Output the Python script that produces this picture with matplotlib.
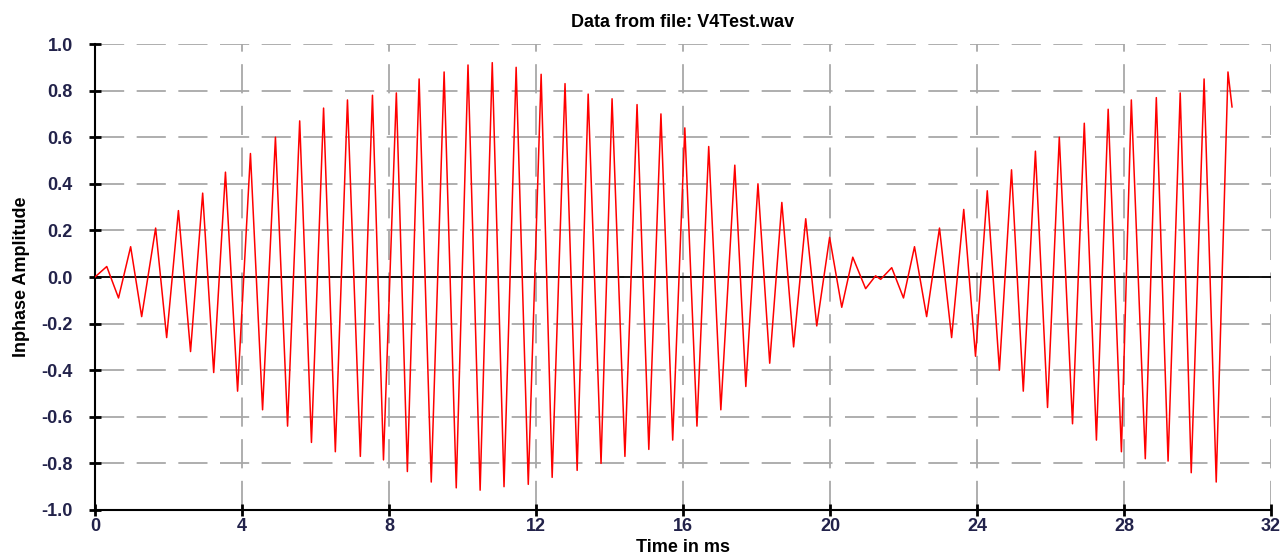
import matplotlib
matplotlib.use("Agg")
import matplotlib.pyplot as plt
import numpy as np

# extrema of the inphase signal (time in ms, amplitude)
t_ms = [0.00, 0.32, 0.64, 0.97, 1.27, 1.65, 1.95, 2.27, 2.60, 2.93,
        3.23, 3.55, 3.88, 4.23, 4.56, 4.91, 5.24, 5.57, 5.89, 6.22,
        6.54, 6.87, 7.22, 7.55, 7.85, 8.20, 8.50, 8.82, 9.15, 9.50,
        9.83, 10.15, 10.48, 10.81, 11.13, 11.46, 11.79, 12.14, 12.44, 12.79,
        13.12, 13.42, 13.77, 14.07, 14.42, 14.75, 15.07, 15.40, 15.72, 16.05,
        16.38, 16.70, 17.03, 17.41, 17.71, 18.04, 18.36, 18.69, 19.01, 19.34,
        19.64, 19.99, 20.32, 20.62, 20.97, 21.24, 21.38, 21.68, 22.00, 22.30,
        22.63, 22.98, 23.31, 23.64, 23.96, 24.28, 24.61, 24.94, 25.26, 25.59,
        25.92, 26.24, 26.60, 26.92, 27.25, 27.57, 27.93, 28.20, 28.58, 28.88,
        29.20, 29.53, 29.83, 30.18, 30.51, 30.83, 30.94]
amp = [0.00, 0.045, -0.09, 0.13, -0.17, 0.21, -0.26, 0.285, -0.32, 0.36,
       -0.41, 0.45, -0.49, 0.53, -0.57, 0.60, -0.64, 0.67, -0.71, 0.725,
       -0.75, 0.76, -0.77, 0.78, -0.785, 0.79, -0.835, 0.85, -0.88, 0.88,
       -0.905, 0.91, -0.915, 0.92, -0.90, 0.90, -0.89, 0.87, -0.86, 0.83,
       -0.83, 0.785, -0.80, 0.765, -0.77, 0.74, -0.74, 0.70, -0.70, 0.64,
       -0.64, 0.56, -0.57, 0.48, -0.47, 0.40, -0.37, 0.32, -0.30, 0.25,
       -0.21, 0.17, -0.13, 0.085, -0.05, 0.005, -0.01, 0.04, -0.09, 0.13,
       -0.17, 0.21, -0.26, 0.29, -0.34, 0.37, -0.40, 0.46, -0.49, 0.54,
       -0.56, 0.60, -0.63, 0.66, -0.70, 0.72, -0.75, 0.76, -0.78, 0.77,
       -0.79, 0.79, -0.84, 0.85, -0.88, 0.88, 0.73]

x_ticks = [0, 4, 8, 12, 16, 20, 24, 28, 32]
y_ticks = [-1.0, -0.8, -0.6, -0.4, -0.2, 0.0, 0.2, 0.4, 0.6, 0.8, 1.0]

plt.rcParams['font.family'] = ['Liberation Sans', 'DejaVu Sans']
plt.rcParams['lines.scale_dashes'] = False

fig = plt.figure(figsize=(12.82, 5.55), dpi=100)
ax = fig.add_axes([0.0741, 0.0811, 0.9173, 0.8396])

ax.set_xlim(0, 32)
ax.set_ylim(-1, 1)
ax.set_xticks(x_ticks)
ax.set_yticks(y_ticks)
ax.set_yticklabels(['%.1f' % v for v in y_ticks])

ax.grid(True, color='#a8a8a8', linewidth=1.3, linestyle=(0, (21, 9)))
ax.set_axisbelow(True)
ax.axhline(0, color='black', linewidth=1.3, zorder=2)
ax.plot(t_ms, amp, color='#ff0000', linewidth=1.1, zorder=3)

for s in ['top', 'right']:
    ax.spines[s].set_visible(False)
for s in ['left', 'bottom']:
    ax.spines[s].set_linewidth(1.5)

ax.tick_params(direction='inout', length=8, width=2, color='black',
               labelsize=13, labelcolor='#22224a')
ax.tick_params(axis='y', pad=12)
ax.tick_params(axis='x', pad=2)
for lab in ax.get_xticklabels() + ax.get_yticklabels():
    lab.set_fontweight('bold')

ax.set_title('Data from file: V4Test.wav', fontsize=13, fontweight='bold', pad=12)
ax.set_xlabel('Time in ms', fontsize=13, fontweight='bold', labelpad=3)
ax.set_ylabel('Inphase Amplitude', fontsize=13, fontweight='bold', labelpad=8)

fig.savefig('out.png', dpi=100)
